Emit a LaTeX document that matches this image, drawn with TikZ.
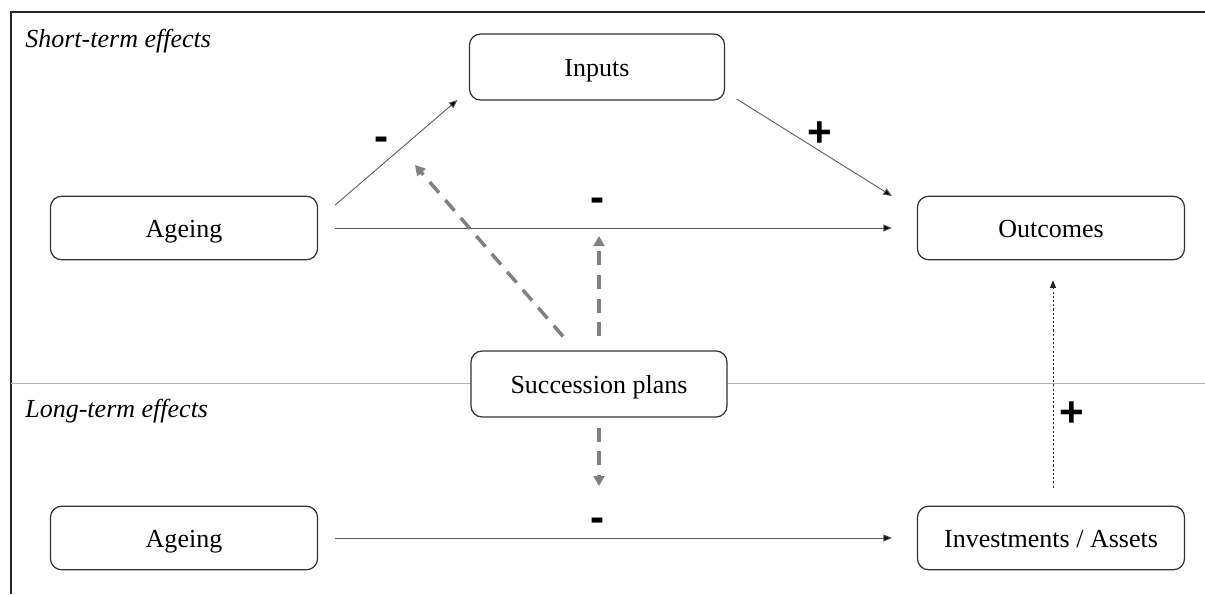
\documentclass[tikz,border=0pt]{standalone}
\usepackage{fontspec}
\setmainfont{Liberation Serif}
\newfontfamily\signfont{Liberation Sans}
\usetikzlibrary{positioning, calc, arrows.meta}

\begin{document}
\begin{tikzpicture}[
    box/.style={draw=black!80, line width=0.7pt, rounded corners=0.22cm, fill=white,
        minimum width=5.34cm, minimum height=1.27cm, text height=11pt, text depth=0pt,
        font=\fontsize{14.8}{18}\selectfont},
    link/.style={draw=black!65, line width=0.5pt, -{Triangle[length=0.17cm,width=0.14cm,fill=black]}},
    moder/.style={draw=black!50, line width=2pt, dash pattern=on 8pt off 5.5pt,
        -{Triangle[length=0.2cm,width=0.22cm]}},
    dotlink/.style={draw=black!85, line width=0.5pt, dash pattern=on 1.2pt off 1.2pt,
        -{Triangle[length=0.15cm,width=0.12cm]}},
    sign/.style={font=\signfont\bfseries\fontsize{24}{24}\selectfont, inner sep=0pt},
    period/.style={font=\itshape\fontsize{14.8}{17}\selectfont, anchor=base west, inner sep=0pt}
]
        \useasboundingbox (0,0) rectangle (24.1,11.88);
        %cornice
        \draw[black!85, line width=0.6pt] (24.1,11.64) -- (0.22,11.64) -- (0.22,0);
        %separazione breve / lungo periodo
        \draw[black!30, line width=0.5pt] (0.22,4.22) -- (24.1,4.22);
        \node[period] (short) at (0.5,10.94) {Short-term effects};
        \node[period] (long) at (0.5,3.54) {Long-term effects};
        %nodi
        \node[box] (ageingST) at (3.68,7.32) {Ageing};
        \node[box, minimum width=5.1cm, minimum height=1.32cm] (inputs) at (11.94,10.54) {Inputs};
        \node[box] (outcomes) at (21.02,7.32) {Outcomes};
        \node[box, minimum width=5.12cm, minimum height=1.32cm] (succession) at (11.98,4.2) {Succession plans};
        \node[box] (ageingLT) at (3.68,1.12) {Ageing};
        \node[box] (invest) at (21.02,1.12) {Investments / Assets};
        %effetti di breve periodo
        \draw[link] ([shift={(0.34,0.46)}]ageingST.east) -- ([shift={(-0.23,-0.66)}]inputs.west);
        \draw[link] ([shift={(0.23,-0.64)}]inputs.east) -- ([shift={(-0.5,0.64)}]outcomes.west);
        \draw[link] ([xshift=0.34cm]ageingST.east) -- ([xshift=-0.5cm]outcomes.west);
        %effetti di lungo periodo
        \draw[link] ([xshift=0.34cm]ageingLT.east) -- ([xshift=-0.5cm]invest.west);
        \draw[dotlink] ([shift={(0.04,0.36)}]invest.north) -- ([shift={(0.04,-0.4)}]outcomes.south);
        %piani di successione
        \coordinate (modA) at (8.30,8.58);
        \draw[moder] ([shift={(-0.72,0.28)}]succession.north) -- (modA);
        \draw[moder] ([yshift=0.28cm]succession.north) -- ($(succession.north |- outcomes.west)+(0,-0.16)$);
        \draw[moder] ([yshift=-0.2cm]succession.south) -- ($(succession.south |- invest.west)+(0,1.04)$);
        %segni
        \node[sign] (signA) at (7.64,9.0) {-};
        \node[sign] (signB) at (16.4,9.2) {+};
        \node[sign] (signC) at (11.96,7.78) {-};
        \node[sign] (signD) at (11.96,1.38) {-};
        \node[sign] (signE) at (21.44,3.6) {+};
\end{tikzpicture}
\end{document}
